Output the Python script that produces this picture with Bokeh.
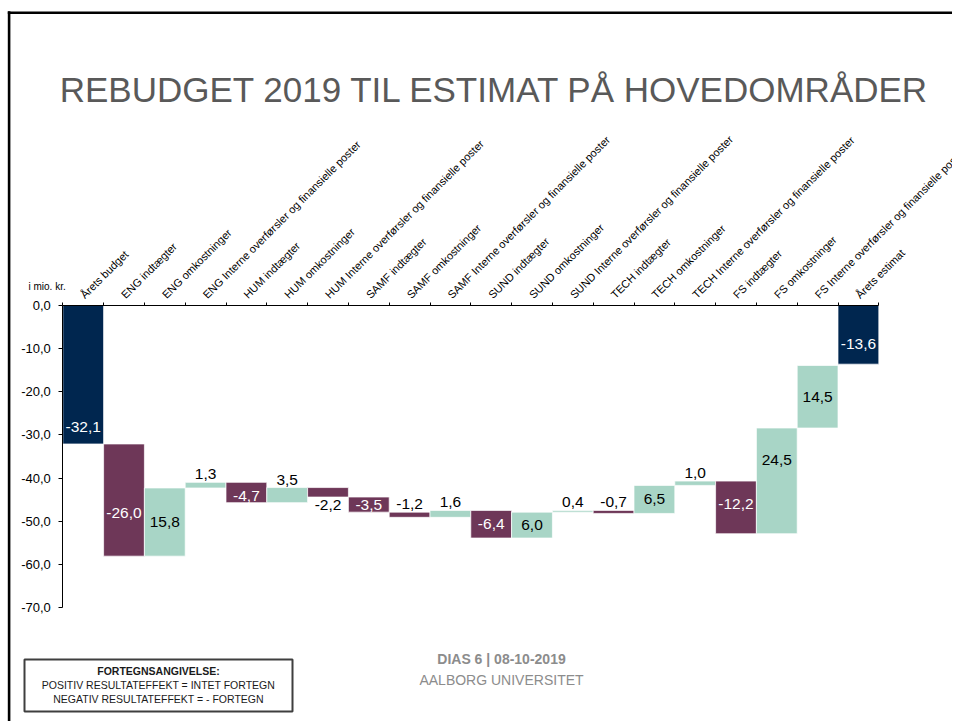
import math
from bokeh.plotting import figure
from bokeh.models import ColumnDataSource, Range1d, LinearAxis, FixedTicker, CustomJSTickFormatter
from bokeh.core.properties import value
from bokeh.embed import file_html
from bokeh.resources import INLINE

# ---------------- data ----------------
categories = [
    "Årets budget",
    "ENG indtægter", "ENG omkostninger", "ENG Interne overførsler og finansielle poster",
    "HUM indtægter", "HUM omkostninger", "HUM Interne overførsler og finansielle poster",
    "SAMF indtægter", "SAMF omkostninger", "SAMF Interne overførsler og finansielle poster",
    "SUND indtægter", "SUND omkostninger", "SUND Interne overførsler og finansielle poster",
    "TECH indtægter", "TECH omkostninger", "TECH Interne overførsler og finansielle poster",
    "FS indtægter", "FS omkostninger", "FS Interne overførsler og finansielle poster",
    "Årets estimat",
]
values = [-32.1, -26.0, 15.8, 1.3, -4.7, 3.5, -2.2, -3.5, -1.2, 1.6,
          -6.4, 6.0, 0.4, -0.7, 6.5, 1.0, -12.2, 24.5, 14.5, -13.6]
is_total = [True] + [False] * 18 + [True]
y_ticks = [0, -10, -20, -30, -40, -50, -60, -70]
y_tick_labels = ["0,0", "-10,0", "-20,0", "-30,0", "-40,0", "-50,0", "-60,0", "-70,0"]

title_text = "REBUDGET 2019 TIL ESTIMAT PÅ HOVEDOMRÅDER"
unit_text = "i mio. kr."
legend_title = "FORTEGNSANGIVELSE:"
legend_lines = ["POSITIV RESULTATEFFEKT = INTET FORTEGN",
                "NEGATIV RESULTATEFFEKT = - FORTEGN"]
footer_lines = ["DIAS 6 | 08-10-2019", "AALBORG UNIVERSITET"]

# ---------------- style ----------------
label_place = ["c", "c", "c", "a", "c", "a", "b", "c", "a", "a",
               "c", "c", "a", "a", "c", "a", "c", "c", "c", "c"]
label_shift_px = [52, 13, 0, 0, 3, 0, 0, 0, 0, 0, 0, 0, 0, 0, 0, 0, -3, -21, 0, 9]
NAVY, PURPLE, TEAL = "#00264F", "#6E3758", "#A8D5C6"
FONT = "Liberation Sans"

# ---------------- layout (screen px of reference) ----------------
W, H, M = 952, 721, 0
X0, CW = 62.3, 40.8      # px of first category edge, px per category
Y0, PU = 305.0, 4.314    # px of value 0, px per value unit


def dx(px):
    return (px - X0) / CW


def dy(py):
    return (Y0 - py) / PU


# ---------------- waterfall geometry ----------------
starts, ends = [], []
running = 0.0
for v, t in zip(values, is_total):
    if t:
        s, e = 0.0, v
        running = v
    else:
        s, e = running, running + v
        running = e
    starts.append(s)
    ends.append(e)

colors = [NAVY if t else (PURPLE if v < 0 else TEAL) for v, t in zip(values, is_total)]
xs = [i + 0.5 for i in range(len(values))]

lab_y, lab_col = [], []
for i, v in enumerate(values):
    lo, hi = min(starts[i], ends[i]), max(starts[i], ends[i])
    pl = label_place[i]
    if pl == "c":
        lab_y.append((lo + hi) / 2 - label_shift_px[i] / PU)
        lab_col.append("white" if (is_total[i] or v < 0) else "black")
    elif pl == "a":
        lab_y.append(hi + 8 / PU)
        lab_col.append("black")
    else:
        lab_y.append(lo - 8 / PU)
        lab_col.append("black")
lab_txt = [f"{v:.1f}".replace(".", ",") for v in values]

bars = ColumnDataSource(dict(
    left=[i for i in range(len(values))],
    right=[i + 1 for i in range(len(values))],
    top=[max(s, e) for s, e in zip(starts, ends)],
    bottom=[min(s, e) for s, e in zip(starts, ends)],
    color=colors,
))
labels = ColumnDataSource(dict(x=xs, y=lab_y, text=lab_txt, color=lab_col))
cats = ColumnDataSource(dict(x=[x - 1 / CW for x in xs], y=[dy(296)] * len(xs), text=categories))

p = figure(width=W, height=H, title=None, toolbar_location=None, output_backend="svg",
           x_axis_type=None, y_axis_type=None,
           x_range=Range1d(dx(M), dx(M + W)), y_range=Range1d(dy(M + H), dy(M)),
           min_border=0, outline_line_color=None, background_fill_color="white",
           border_fill_color="white")

# bars
p.quad(left="left", right="right", top="top", bottom="bottom", source=bars,
       fill_color="color", line_color="white", line_width=1, line_alpha=0.7)

# axes
yaxis = LinearAxis(fixed_location=0, bounds=(y_ticks[-1], y_ticks[0]),
                   ticker=FixedTicker(ticks=y_ticks, minor_ticks=[]),
                   major_label_overrides={float(t): l for t, l in zip(y_ticks, y_tick_labels)},
                   major_tick_out=4, major_tick_in=0, minor_tick_out=0, minor_tick_in=0,
                   axis_line_color="black", major_tick_line_color="black",
                   major_label_standoff=8, major_label_text_font=FONT,
                   major_label_text_font_size="13px", major_label_text_color="black")
p.add_layout(yaxis, "left")

xaxis = LinearAxis(fixed_location=0, bounds=(0, len(categories)),
                   ticker=FixedTicker(ticks=list(range(len(categories) + 1)), minor_ticks=[]),
                   formatter=CustomJSTickFormatter(code="return ''"),
                   major_tick_out=3, major_tick_in=0, minor_tick_out=0, minor_tick_in=0,
                   axis_line_color="black", major_tick_line_color="black")
p.add_layout(xaxis, "above")

# value labels
p.text(x="x", y="y", text="text", source=labels, text_color="color",
       text_font=value(FONT), text_font_size=value("15.5px"),
       text_align="center", text_baseline="middle")

# category labels
p.text(x="x", y="y", text="text", source=cats, angle=math.pi / 4,
       text_font=value(FONT), text_font_size=value("11px"), text_color="black",
       text_align="left", text_baseline="alphabetic")

# unit label
p.text(x=[dx(28)], y=[dy(286)], text=[unit_text], text_font=value(FONT),
       text_font_size=value("10px"), text_color="black",
       text_align="left", text_baseline="middle")

# title
p.text(x=[dx(494.5)], y=[dy(89)], text=[title_text], text_font=value(FONT),
       text_font_size=value("35px"), text_color="#595959",
       text_align="center", text_baseline="middle")

# slide border
p.segment(x0=[dx(8.6)], y0=[dy(10.8)], x1=[dx(8.6)], y1=[dy(H + 4)],
          line_color="black", line_width=2.6)
p.segment(x0=[dx(7.3)], y0=[dy(12.2)], x1=[dx(W + 4)], y1=[dy(12.2)],
          line_color="black", line_width=2.6)

# sign legend box
p.quad(left=[dx(24)], right=[dx(292)], top=[dy(659)], bottom=[dy(711)],
       fill_color=None, line_color="#3f3f3f", line_width=2)
p.text(x=[dx(158)], y=[dy(670)], text=[legend_title],
       text_font=value(FONT), text_font_size=value("10.5px"), text_color="#1a1a1a",
       text_font_style="bold", text_align="center", text_baseline="middle")
p.text(x=[dx(158)] * 2, y=[dy(684.5), dy(698.5)], text=legend_lines,
       text_font=value(FONT), text_font_size=value("10.5px"), text_color="#1a1a1a",
       text_align="center", text_baseline="middle")

# footer
p.text(x=[dx(501)], y=[dy(658)], text=[footer_lines[0]], text_font=value(FONT),
       text_font_size=value("14px"), text_font_style="bold", text_color="#8c8c8c",
       text_align="center", text_baseline="middle")
p.text(x=[dx(501)], y=[dy(679)], text=[footer_lines[1]], text_font=value(FONT),
       text_font_size=value("14px"), text_color="#8c8c8c",
       text_align="center", text_baseline="middle")

open("out.html", "w").write(file_html(p, INLINE, "Rebudget 2019"))
